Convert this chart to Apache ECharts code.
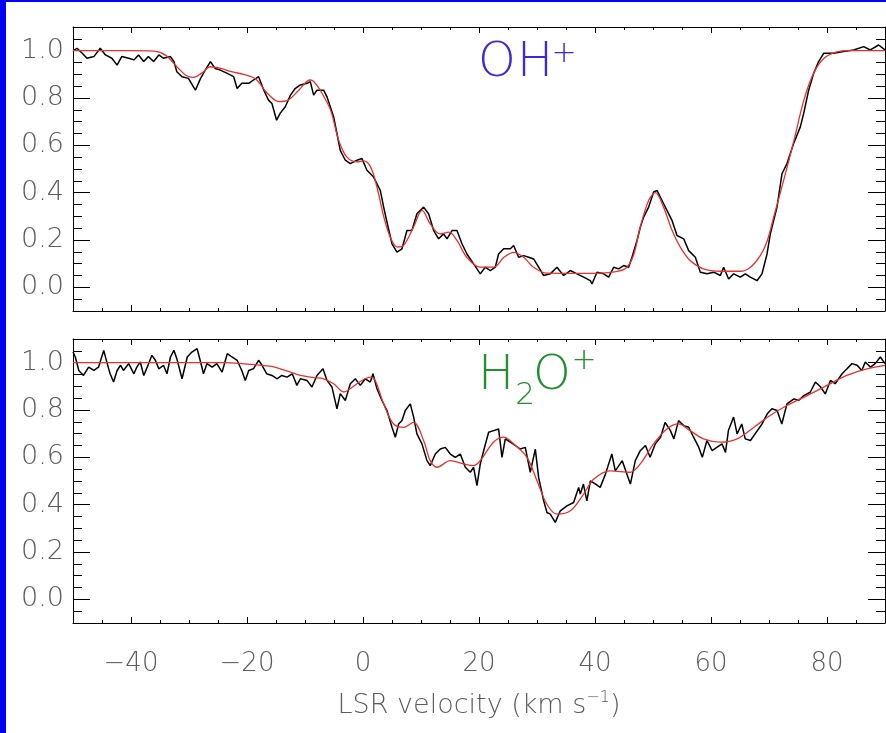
<!DOCTYPE html>
<html>
<head>
<meta charset="utf-8">
<script src="https://cdn.jsdelivr.net/npm/echarts@6/dist/echarts.min.js"></script>
<style>
  html, body { margin:0; padding:0; background:#fff; }
  #chart { position:absolute; left:0; top:0; width:886px; height:733px; }
  .bl { position:absolute; left:0; top:0; width:6px; height:733px; background:#0000f4; z-index:5; }
  .bt { position:absolute; left:0; top:0; width:886px; height:2px; background:#0000f4; z-index:5; }
</style>
</head>
<body>
<div id="chart"></div>
<div class="bl"></div><div class="bt"></div>
<script>
// ---- axis settings (values) ----
const velMin = -50, velMax = 90;
const velMajorTicks = [-40, -20, 0, 20, 40, 60, 80];
const absMin = -0.1, absMax = 1.1;
const absMajorTicks = [0, 0.2, 0.4, 0.6, 0.8, 1.0];
const xTitle = 'LSR velocity (km s';
const panelLabels = ['OH', 'H2O'];

// ---- OH+ observed spectrum [velocity, normalised intensity] ----
const ohObserved = [
 [-50.0,1.000],[-49.3,1.010],[-48.4,0.989],[-47.6,0.968],[-46.4,0.975],[-45.3,1.010],[-44.4,0.982],[-43.3,0.968],
 [-42.4,0.939],[-41.6,0.975],[-40.4,0.968],[-39.5,0.961],[-38.7,0.982],[-37.8,0.954],[-37.0,0.975],[-36.1,0.954],
 [-35.2,0.982],[-34.4,0.968],[-33.2,0.975],[-32.6,0.954],[-32.1,0.911],[-31.2,0.890],[-30.1,0.883],[-28.9,0.833],
 [-28.0,0.883],[-27.2,0.918],[-26.3,0.954],[-25.5,0.925],[-24.6,0.918],[-23.4,0.904],[-22.3,0.890],[-21.7,0.840],
 [-20.9,0.862],[-19.7,0.862],[-18.9,0.876],[-18.0,0.890],[-17.1,0.833],[-16.3,0.791],[-15.7,0.777],[-14.9,0.706],
 [-14.3,0.735],[-13.4,0.763],[-12.5,0.812],[-11.7,0.840],[-10.8,0.855],[-9.66,0.862],[-9.09,0.869],[-8.51,0.812],
 [-7.94,0.833],[-6.79,0.833],[-6.21,0.805],[-5.06,0.720],[-4.49,0.650],[-3.92,0.579],[-3.05,0.537],[-2.19,0.523],
 [-1.04,0.537],[-0.18,0.544],[0.68,0.495],[1.83,0.466],[2.98,0.410],[3.56,0.339],[4.13,0.276],[5.0,0.184],
 [5.86,0.149],[6.72,0.163],[7.58,0.240],[8.44,0.240],[9.30,0.311],[10.45,0.339],[11.31,0.311],[12.18,0.240],
 [13.04,0.205],[13.90,0.226],[14.48,0.205],[15.34,0.240],[16.20,0.240],[17.06,0.184],[17.92,0.141],[19.07,0.099],
 [20.22,0.057],[21.08,0.085],[21.95,0.071],[22.81,0.085],[23.38,0.141],[24.25,0.163],[25.40,0.163],[25.97,0.177],
 [26.83,0.127],[27.70,0.134],[28.56,0.127],[29.42,0.120],[30.28,0.085],[31.14,0.050],[32.29,0.057],[33.44,0.085],
 [34.59,0.050],[35.74,0.071],[36.89,0.057],[38.04,0.043],[39.19,0.028],[39.48,0.014],[40.34,0.064],[41.49,0.057],
 [42.36,0.043],[43.22,0.085],[44.08,0.078],[44.94,0.092],[45.80,0.085],[46.38,0.127],[47.24,0.198],[47.81,0.254],
 [48.39,0.297],[49.25,0.339],[50.11,0.403],[50.69,0.410],[51.55,0.367],[52.41,0.325],[53.27,0.283],[54.14,0.219],
 [55.29,0.205],[56.15,0.155],[57.30,0.127],[58.16,0.064],[59.31,0.057],[60.46,0.064],[61.61,0.050],[62.18,0.085],
 [63.04,0.035],[63.91,0.057],[65.06,0.043],[65.92,0.057],[66.78,0.043],[67.93,0.028],[68.79,0.057],[69.66,0.141],
 [70.23,0.226],[71.38,0.339],[72.24,0.480],[73.10,0.523],[74.25,0.608],[75.40,0.678],[75.98,0.735],[76.84,0.833],
 [77.70,0.904],[78.56,0.954],[79.42,0.989],[81.15,0.989],[82.87,0.996],[84.6,1.003],[86.32,1.017],[87.47,1.003],
 [88.91,1.024],[90.0,1.003]
];

// ---- OH+ model fit ----
const ohFit = [
 [-50,1.0],[-40,1.0],[-36,0.998],[-34,0.98],[-32,0.93],[-30.5,0.895],[-29.2,0.887],[-27.8,0.905],[-26.3,0.932],
 [-24.5,0.925],[-22.5,0.91],[-20.6,0.90],[-18.5,0.88],[-16.5,0.82],[-14.5,0.785],[-13,0.79],[-11,0.835],[-9.1,0.876],
 [-8.5,0.87],[-7.4,0.834],[-5.6,0.749],[-4.2,0.622],[-2.8,0.551],[-1.0,0.530],[0.1,0.534],[1.3,0.509],[2.4,0.424],
 [3.6,0.297],[4.7,0.212],[5.9,0.170],[7.0,0.177],[8.7,0.254],[10.2,0.325],[11.6,0.268],[13.3,0.226],[14.8,0.233],
 [16.2,0.198],[17.9,0.127],[20.2,0.085],[22.5,0.085],[24.3,0.127],[26.0,0.148],[27.7,0.127],[29.4,0.085],[31.7,0.060],
 [37.5,0.059],[41,0.060],[44,0.068],[45.5,0.085],[46.7,0.140],[47.8,0.254],[49.25,0.367],[50.4,0.400],[51.8,0.340],
 [53.3,0.240],[54.7,0.170],[56.4,0.113],[58.7,0.078],[61.6,0.068],[65.1,0.068],[66.8,0.085],[68.5,0.134],[69.7,0.197],
 [70.8,0.296],[72.5,0.450],[74.3,0.620],[76.0,0.790],[77.7,0.905],[79.4,0.966],[81.7,0.995],[84,1.0],[90,1.0]
];

// ---- H2O+ observed spectrum ----
const h2oObserved = [
 [-50.0,1.045],[-49.6,1.024],[-49.0,0.967],[-48.2,0.946],[-47.3,0.981],[-46.4,0.967],[-45.6,0.981],[-44.7,1.052],
 [-44.1,0.996],[-43.6,0.953],[-43.0,0.918],[-42.4,0.967],[-41.8,0.989],[-41.3,0.967],[-40.4,0.996],[-39.5,0.953],
 [-39.0,0.981],[-38.4,1.003],[-37.8,0.946],[-37.2,0.981],[-36.4,1.031],[-35.8,1.010],[-35.2,0.974],[-34.4,0.989],
 [-33.8,0.953],[-33.2,1.024],[-32.6,1.052],[-32.1,1.017],[-31.2,0.932],[-30.3,1.024],[-29.5,1.045],[-28.6,1.059],
 [-28.0,1.003],[-27.5,0.953],[-26.9,0.996],[-26.0,0.981],[-25.2,0.996],[-24.3,0.960],[-23.4,1.038],[-22.6,1.024],
 [-21.7,1.010],[-20.9,0.967],[-20.3,0.925],[-19.7,0.967],[-18.9,0.974],[-18.0,1.010],[-17.4,0.989],[-16.6,0.953],
 [-15.7,0.946],[-14.8,0.932],[-14.0,0.946],[-13.1,0.939],[-12.2,0.953],[-11.4,0.904],[-10.8,0.932],[-9.66,0.925],
 [-8.8,0.897],[-7.94,0.946],[-6.9,0.974],[-6.21,0.925],[-5.35,0.897],[-4.49,0.805],[-3.92,0.869],[-3.05,0.840],
 [-2.19,0.911],[-1.33,0.932],[-0.47,0.904],[0.40,0.932],[1.26,0.918],[1.72,0.953],[2.41,0.890],[3.27,0.840],
 [4.13,0.798],[5.0,0.727],[5.57,0.685],[6.14,0.741],[6.72,0.756],[7.29,0.798],[8.15,0.826],[8.73,0.770],
 [9.30,0.699],[10.16,0.657],[11.03,0.586],[11.6,0.565],[12.46,0.614],[13.33,0.635],[14.19,0.642],[15.05,0.614],
 [15.91,0.600],[16.77,0.614],[17.64,0.558],[18.5,0.537],[19.07,0.558],[19.65,0.480],[20.22,0.572],[20.8,0.628],
 [21.66,0.706],[22.52,0.713],[23.38,0.720],[23.96,0.600],[24.53,0.678],[25.4,0.664],[26.26,0.650],[27.12,0.635],
 [27.98,0.642],[28.84,0.537],[29.71,0.635],[30.28,0.515],[31.14,0.417],[31.72,0.367],[32.29,0.360],[33.15,0.325],
 [34.02,0.374],[35.16,0.395],[36.31,0.409],[37.18,0.473],[37.47,0.445],[38.0,0.487],[38.6,0.416],[39.2,0.501],
 [40.1,0.487],[40.9,0.473],[41.8,0.529],[42.9,0.614],[43.5,0.543],[44.7,0.586],[45.5,0.529],[46.1,0.487],
 [46.95,0.586],[47.8,0.628],[48.7,0.650],[49.5,0.600],[50.4,0.657],[51.3,0.685],[52.1,0.748],[53.0,0.713],
 [53.6,0.678],[54.4,0.755],[55.3,0.734],[56.15,0.727],[57.0,0.685],[57.9,0.642],[58.5,0.600],[59.3,0.671],
 [60.2,0.628],[61.0,0.642],[61.9,0.657],[62.5,0.621],[63.0,0.713],[63.9,0.770],[64.5,0.699],[65.3,0.741],
 [65.9,0.678],[66.8,0.671],[67.6,0.699],[68.8,0.741],[69.7,0.784],[70.5,0.805],[71.4,0.798],[72.2,0.741],
 [73.1,0.826],[74.3,0.847],[75.1,0.840],[76.0,0.861],[77.1,0.875],[78.0,0.918],[78.9,0.897],[79.7,0.868],
 [80.6,0.925],[81.4,0.911],[82.6,0.953],[83.45,0.974],[84.3,0.996],[85.2,0.989],[86.0,0.967],[86.6,1.003],
 [87.5,0.981],[88.3,0.996],[89.2,1.024],[90.0,0.996]
];

// ---- H2O+ model fit ----
const h2oFit = [
 [-50,1.0],[-30,1.0],[-24,1.0],[-22,0.998],[-18,0.99],[-16,0.985],[-14.26,0.974],[-12.5,0.96],[-10.8,0.946],
 [-8.5,0.937],[-6.8,0.932],[-5.06,0.911],[-3.3,0.876],[-2.2,0.89],[-1.04,0.911],[0.2,0.93],[1.26,0.939],[2.1,0.925],
 [3.56,0.826],[5.28,0.741],[7.0,0.727],[8.7,0.748],[10.45,0.671],[11.6,0.586],[12.75,0.558],[15.05,0.586],
 [17.35,0.572],[19.07,0.565],[20.22,0.586],[22.5,0.664],[24.25,0.685],[25.97,0.657],[28.27,0.600],[30.0,0.501],
 [31.7,0.402],[33.44,0.360],[35.74,0.374],[38.04,0.445],[39.8,0.508],[42.6,0.543],[46.1,0.537],[47.8,0.572],
 [50.1,0.657],[52.4,0.720],[54.4,0.741],[56.4,0.713],[58.7,0.678],[61.6,0.664],[64.5,0.678],[67.4,0.727],
 [70.2,0.777],[73.1,0.819],[76.6,0.861],[80.0,0.904],[83.4,0.946],[86.9,0.974],[90,0.989]
];

// ---- styling ----
const FONT = 'DejaVu Sans';
const LABEL_COLOR = '#5c5c5c';
const grids = [
  { left: 73, top: 27, width: 812, height: 284 },
  { left: 73, top: 339, width: 812, height: 284 }
];

function minus(v) { return v < 0 ? '\u2212' + Math.abs(v) : String(v); }

const xAxis = [], yAxis = [];
grids.forEach((g, gi) => {
  const isBottom = gi === grids.length - 1;
  ['bottom', 'top'].forEach(pos => {
    xAxis.push({
      type: 'value', gridIndex: gi, position: pos, min: velMin, max: velMax, interval: 5,
      axisLine: { show: true, onZero: false, lineStyle: { color: '#000', width: 1 } },
      axisTick: { show: true, inside: true, length: 3, lineStyle: { color: '#000', width: 1 } },
      axisLabel: { show: false }, splitLine: { show: false }
    });
    const showLab = isBottom && pos === 'bottom';
    xAxis.push({
      type: 'value', gridIndex: gi, position: pos, min: velMin, max: velMax, interval: 5,
      axisLine: { show: false, onZero: false },
      axisTick: { show: true, inside: true, length: 6, customValues: velMajorTicks, lineStyle: { color: '#000', width: 1 } },
      axisLabel: {
        show: showLab, customValues: velMajorTicks, formatter: minus, margin: 28,
        fontFamily: FONT, fontWeight: 200, fontSize: 26, color: LABEL_COLOR
      },
      splitLine: { show: false },
      name: showLab ? '{n|' + xTitle + '}{s|\u22121}{n|)}' : '',
      nameLocation: 'middle', nameGap: 67,
      nameTextStyle: {
        rich: {
          n: { fontFamily: FONT, fontWeight: 200, fontSize: 27, color: LABEL_COLOR, lineHeight: 32 },
          s: { fontFamily: FONT, fontWeight: 200, fontSize: 16, color: LABEL_COLOR, verticalAlign: 'top', lineHeight: 32 }
        }
      }
    });
  });
  ['left', 'right'].forEach(pos => {
    yAxis.push({
      type: 'value', gridIndex: gi, position: pos, min: absMin, max: absMax, interval: 0.05,
      axisLine: { show: true, onZero: false, lineStyle: { color: '#000', width: 1 } },
      axisTick: { show: true, inside: true, length: 9, lineStyle: { color: '#000', width: 1 } },
      axisLabel: { show: false }, splitLine: { show: false }
    });
    yAxis.push({
      type: 'value', gridIndex: gi, position: pos, min: absMin, max: absMax, interval: 0.05,
      axisLine: { show: false, onZero: false },
      axisTick: { show: true, inside: true, length: 17, customValues: absMajorTicks, lineStyle: { color: '#000', width: 1 } },
      axisLabel: {
        show: pos === 'left', customValues: absMajorTicks, formatter: v => v.toFixed(1), margin: 9,
        fontFamily: FONT, fontWeight: 200, fontSize: 27, color: LABEL_COLOR
      },
      splitLine: { show: false }
    });
  });
});

const series = [];
[[ohObserved, ohFit], [h2oObserved, h2oFit]].forEach((pair, gi) => {
  series.push({
    type: 'line', xAxisIndex: gi * 4, yAxisIndex: gi * 4, data: pair[0],
    showSymbol: false, symbol: 'none', silent: true, z: 2,
    lineStyle: { color: '#000', width: 1.5 }
  });
  series.push({
    type: 'line', xAxisIndex: gi * 4, yAxisIndex: gi * 4, data: pair[1],
    showSymbol: false, symbol: 'none', silent: true, smooth: 0.35, z: 3,
    lineStyle: { color: '#e5322f', width: 1.3 }
  });
});

const txt = (s, x, y, size, color) => ({
  type: 'text', x: x, y: y, z: 10,
  style: { text: s, fontFamily: FONT, fontWeight: 200, fontSize: size, fill: color, align: 'center', verticalAlign: 'middle' }
});
const OH_COLOR = '#4326d8', H2O_COLOR = '#23902e';

const chart = echarts.init(document.getElementById('chart'), null, { renderer: 'canvas' });
chart.setOption({
  animation: false,
  backgroundColor: '#fff',
  grid: grids.map(g => Object.assign({ outerBoundsMode: 'none', containLabel: false, show: false }, g)),
  xAxis: xAxis,
  yAxis: yAxis,
  series: series,
  graphic: [
    txt('O', 497, 64, 48, OH_COLOR), txt('H', 535, 64, 48, OH_COLOR), txt('+', 564, 54, 30, OH_COLOR),
    txt('H', 496, 377, 48, H2O_COLOR), txt('2', 525, 396, 31, H2O_COLOR), txt('O', 552, 377, 48, H2O_COLOR),
    txt('+', 584, 361, 30, H2O_COLOR)
  ]
});
</script>
</body>
</html>
